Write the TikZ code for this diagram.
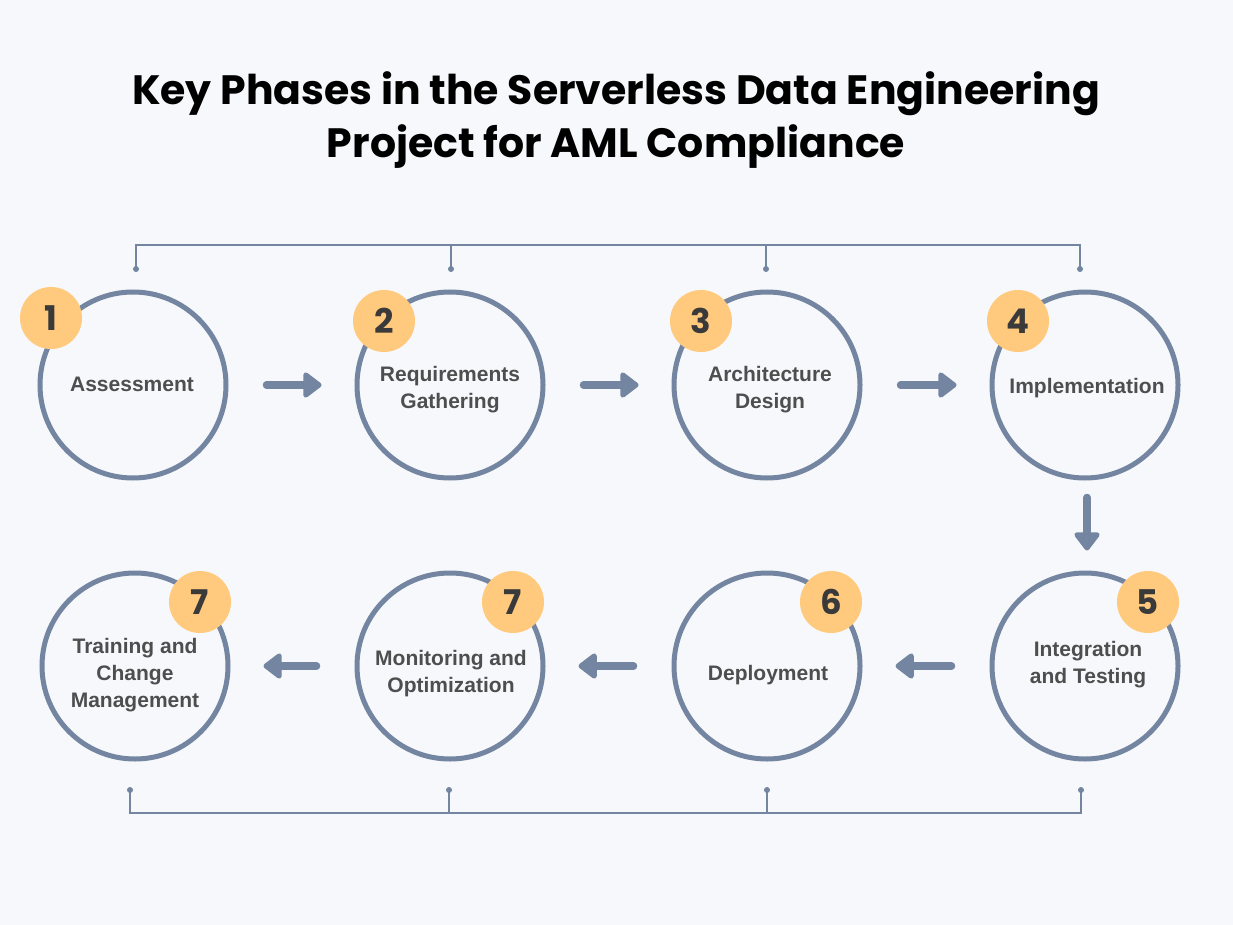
\documentclass[tikz,border=0pt]{standalone}
\usepackage{fontspec}
\setmainfont{Liberation Sans}
\newfontfamily\pop{Poppins}
\usetikzlibrary{arrows.meta}
\definecolor{bgC}{RGB}{246,248,251}
\definecolor{lineC}{RGB}{115,133,160}
\definecolor{badgeC}{RGB}{255,202,125}
\definecolor{txtC}{RGB}{78,78,78}
\definecolor{numC}{RGB}{58,58,58}
\tikzset{
  phase/.style={circle, draw=lineC, line width=5pt, minimum size=186pt, inner sep=0pt},
  lbl/.style={align=center, text=txtC, font=\bfseries\fontsize{21}{27}\selectfont, inner sep=0pt},
  badge/.style={circle, fill=badgeC, minimum size=62pt, inner sep=0pt, text=numC, font=\pop\bfseries\fontsize{34}{34}\selectfont},
  flow/.style={draw=lineC, line width=7.5pt, line cap=round, -{Triangle[length=20pt,width=29pt,round]}},
  brk/.style={draw=lineC, line width=2pt},
  dot/.style={circle, fill=lineC, minimum size=6pt, inner sep=0pt},
  ttl/.style={align=center, font=\pop\bfseries\fontsize{41}{53}\selectfont, inner sep=0pt}
}
\begin{document}
\begin{tikzpicture}[x=1pt,y=-1pt]
\fill[bgC] (0,0) rectangle (1233,925);
\useasboundingbox (0,0) rectangle (1233,925);
\node[ttl] (title) at (616,120) {Key Phases in the Serverless Data Engineering\\Project for AML Compliance};
% circles
\node[phase] (c1) at (133,385) {};
\node[phase] (c2) at (450,385) {};
\node[phase] (c3) at (767,385) {};
\node[phase] (c4) at (1085,385) {};
\node[phase] (c5) at (1085,666) {};
\node[phase] (c6) at (767,666) {};
\node[phase] (c7) at (450,666) {};
\node[phase] (c8) at (135,666) {};
% labels
\node[lbl] (l1) at (132,384) {Assessment};
\node[lbl] (l2) at (450,390) {Requirements\\Gathering};
\node[lbl] (l3) at (770,390) {Architecture\\Design};
\node[lbl] (l4) at (1087,388) {Implementation};
\node[lbl] (l5) at (1088,665) {Integration\\and Testing};
\node[lbl] (l6) at (768,675) {Deployment};
\node[lbl] (l7) at (451,674) {Monitoring and\\Optimization};
\node[lbl] (l8) at (135,675) {Training and\\Change\\Management};
% badges
\node[badge] (b1) at (51,318) {1};
\node[badge] (b2) at (384,321) {2};
\node[badge] (b3) at (701,321) {3};
\node[badge] (b4) at (1018,321) {4};
\node[badge] (b5) at (1148,602) {5};
\node[badge] (b6) at (831,602) {6};
\node[badge] (b7) at (513,602) {7};
\node[badge] (b8) at (200,602) {7};
% arrows
\draw[flow] ([xshift=38pt]c1.east) -- ([xshift=-33pt]c2.west);
\draw[flow] ([xshift=38pt]c2.east) -- ([xshift=-33pt]c3.west);
\draw[flow] ([xshift=38pt]c3.east) -- ([xshift=-33pt]c4.west);
\draw[flow] ([xshift=2pt,yshift=-17pt]c4.south) -- ([xshift=2pt,yshift=20pt]c5.north);
\draw[flow] ([xshift=-38pt]c5.west) -- ([xshift=33pt]c6.east);
\draw[flow] ([xshift=-38pt]c6.west) -- ([xshift=33pt]c7.east);
\draw[flow] ([xshift=-38pt]c7.west) -- ([xshift=33pt]c8.east);
% top bracket
\coordinate (t1) at (136,269);
\coordinate (t2) at (451,269);
\coordinate (t3) at (766,269);
\coordinate (t4) at (1080,269);
\draw[brk] (t1) |- (1080,245) -- (t4);
\draw[brk] (t2) -- (451,245);
\draw[brk] (t3) -- (766,245);
\foreach \p in {t1,t2,t3,t4} \node[dot] at (\p) {};
% bottom bracket
\coordinate (u1) at (130,790);
\coordinate (u2) at (449,790);
\coordinate (u3) at (767,790);
\coordinate (u4) at (1081,790);
\draw[brk] (u1) |- (1081,813) -- (u4);
\draw[brk] (u2) -- (449,813);
\draw[brk] (u3) -- (767,813);
\foreach \p in {u1,u2,u3,u4} \node[dot] at (\p) {};
\end{tikzpicture}
\end{document}
